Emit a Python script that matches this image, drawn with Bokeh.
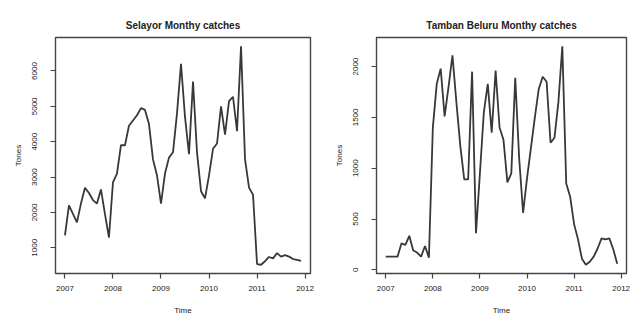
from bokeh.plotting import figure
from bokeh.layouts import row
from bokeh.models import FixedTicker, Range1d
from bokeh.embed import file_html
from bokeh.resources import INLINE

# ---- data (monthly, Jan 2007 - Dec 2011) ----
years = [2007, 2008, 2009, 2010, 2011]
selayor = [
    1350, 2200, 1960, 1720, 2250, 2700, 2550, 2350, 2250, 2650, 1950, 1290,
    2850, 3100, 3900, 3900, 4450, 4600, 4750, 4950, 4900, 4500, 3500, 3050,
    2250, 3100, 3550, 3700, 4800, 6200, 4700, 3650, 5700, 3700, 2600, 2400,
    3050, 3800, 3950, 5000, 4200, 5150, 5270, 4300, 6700, 3500, 2700, 2500,
    540, 520, 620, 740, 700, 850, 750, 790, 750, 680, 660, 630,
]
tamban = [
    130, 130, 130, 130, 260, 245, 335, 190, 170, 130, 235, 120,
    1400, 1830, 1980, 1510, 1800, 2110, 1650, 1220, 890, 890, 1950, 360,
    950, 1550, 1830, 1350, 1960, 1400, 1280, 860, 950, 1890, 1100, 560,
    900, 1200, 1500, 1780, 1900, 1850, 1250, 1300, 1650, 2200, 850, 720,
    450, 300, 110, 50, 80, 130, 210, 310, 300, 310, 200, 60,
]
x_ticks = [2007, 2008, 2009, 2010, 2011, 2012]
selayor_ticks = [1000, 2000, 3000, 4000, 5000, 6000]
tamban_ticks = [0, 500, 1000, 1500, 2000]
titles = ["Selayor Monthy catches", "Tamban Beluru Monthy catches"]

t = [y + m / 12 for y in years for m in range(12)]

FONT = "Liberation Sans"
LINE = "#383838"


def make(vals, yticks, title, fw, bl, br):
    lo, hi = min(vals), max(vals)
    pad = (hi - lo) * 0.04
    tpad = (t[-1] - t[0]) * 0.04
    p = figure(width=bl + fw + br, height=318, output_backend="svg",
               toolbar_location=None, title=title,
               x_range=Range1d(t[0] - tpad, t[-1] + tpad),
               y_range=Range1d(lo - pad, hi + pad))
    p.frame_width = fw
    p.frame_height = 236
    p.min_border_left = bl
    p.min_border_right = br
    p.min_border_top = 37
    p.min_border_bottom = 45
    p.background_fill_color = "white"
    p.border_fill_color = "white"
    p.outline_line_color = "#444444"
    p.outline_line_width = 1.4
    p.xgrid.visible = False
    p.ygrid.visible = False
    p.title.align = "center"
    p.title.standoff = 10
    p.title.vertical_align = "top"
    p.title.text_font = FONT
    p.title.text_font_size = "10px"
    p.title.text_font_style = "bold"
    p.title.text_color = "#222222"
    p.line(t, vals, line_color=LINE, line_width=1.8)

    p.xaxis.ticker = FixedTicker(ticks=x_ticks)
    p.yaxis.ticker = FixedTicker(ticks=yticks)
    p.xaxis.axis_label = "Time"
    p.yaxis.axis_label = "Tones"
    p.yaxis.major_label_orientation = "vertical"
    for ax in (p.xaxis[0], p.yaxis[0]):
        ax.axis_line_color = None
        ax.major_tick_line_color = "#444444"
        ax.major_tick_line_width = 1.2
        ax.major_tick_out = 5
        ax.major_tick_in = 0
        ax.minor_tick_line_color = None
        ax.major_label_text_font = FONT
        ax.major_label_text_font_size = "8px"
        ax.major_label_text_color = "#222222"
        ax.axis_label_text_font = FONT
        ax.axis_label_text_font_size = "8px"
        ax.axis_label_text_font_style = "normal"
        ax.axis_label_text_color = "#222222"
    p.xaxis.major_label_standoff = 7
    p.xaxis.axis_label_standoff = 12
    p.yaxis.major_label_standoff = 13
    p.yaxis.axis_label_standoff = 7
    return p


p1 = make(selayor, selayor_ticks, titles[0], 255, 55, 10)
p2 = make(tamban, tamban_ticks, titles[1], 250, 56, 14)
layout = row(p1, p2)

open("out.html", "w").write(file_html(layout, INLINE))
